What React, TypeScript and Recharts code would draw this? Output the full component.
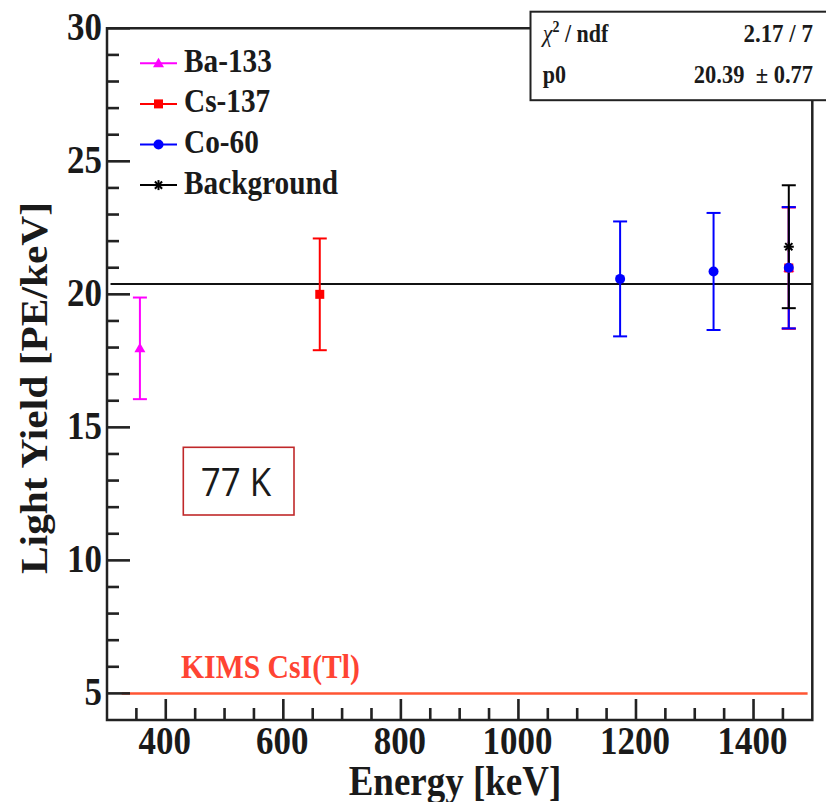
import React from 'react';
import { ScatterChart, Scatter, XAxis, YAxis, ErrorBar, ReferenceLine, ReferenceArea } from 'recharts';

// ---- data ----
const BA133_ENERGY = [356, 1460];
const BA133_LY = [17.97, 20.99];
const BA133_ERR = [1.91, 2.28];

const CS137_ENERGY = [662, 1460];
const CS137_LY = [20.0, 20.99];
const CS137_ERR = [2.1, 2.28];

const CO60_ENERGY = [1173, 1332, 1460];
const CO60_LY = [20.58, 20.86, 21.0];
const CO60_ERR = [2.16, 2.2, 2.28];

const BG_ENERGY = [1460];
const BG_LY = [21.79];
const BG_ERR = [2.31];

const FIT_P0 = 20.39;
const KIMS_LY = 5;

const X_DOMAIN = [300, 1500];
const Y_DOMAIN = [4, 30];
const X_MAJOR = [400, 600, 800, 1000, 1200, 1400];
const X_TICKS = [350, 400, 450, 500, 550, 600, 650, 700, 750, 800, 850, 900, 950, 1000, 1050, 1100, 1150, 1200, 1250, 1300, 1350, 1400, 1450];
const Y_MAJOR = [5, 10, 15, 20, 25, 30];
const Y_TICKS = [5, 6, 7, 8, 9, 10, 11, 12, 13, 14, 15, 16, 17, 18, 19, 20, 21, 22, 23, 24, 25, 26, 27, 28, 29, 30];

const LEGEND_LABELS = ['Ba-133', 'Cs-137', 'Co-60', 'Background'];
const STATS_ROWS = [['χ2 / ndf', '2.17 / 7'], ['p0', '20.39  ± 0.77']];

const COLORS = ['#ff00ff', '#ff0000', '#0000ff', '#000000'];
const KINDS = ['triangle', 'square', 'circle', 'star'];

const zip = (xs: number[], ys: number[], es: number[]) => xs.map((x, i) => ({ x, y: ys[i], err: es[i] }));
const SERIES = [
  zip(BA133_ENERGY, BA133_LY, BA133_ERR),
  zip(CS137_ENERGY, CS137_LY, CS137_ERR),
  zip(CO60_ENERGY, CO60_LY, CO60_ERR),
  zip(BG_ENERGY, BG_LY, BG_ERR),
];

// layout
const W = 826;
const H = 802;
const M = { top: 28.3, right: 13.7, bottom: 0, left: 0 };
const XAXIS_H = 82;
const YAXIS_W = 107;
const PLOT_X = M.left + YAXIS_W;
const PLOT_Y = M.top;
const PLOT_W = W - M.left - M.right - YAXIS_W;
const PLOT_H = H - M.top - M.bottom - XAXIS_H;
const PLOT_BOTTOM = PLOT_Y + PLOT_H;
// same linear mapping as the chart's axes (used only for the inward tick marks)
const tx = (v: number) => PLOT_X + ((v - X_DOMAIN[0]) / (X_DOMAIN[1] - X_DOMAIN[0])) * PLOT_W;
const ty = (v: number) => PLOT_Y + ((Y_DOMAIN[1] - v) / (Y_DOMAIN[1] - Y_DOMAIN[0])) * PLOT_H;
const TICK_W = 2.6;

const SERIF = '"Liberation Serif", "Times New Roman", serif';
const INK = '#1a1a1a';
const SY = 1.12;

function Marker({ kind, cx, cy, color }: { kind: string; cx: number; cy: number; color: string }) {
  if (kind === 'triangle') {
    return <polygon points={`${cx},${cy - 5.5} ${cx - 5.5},${cy + 4} ${cx + 5.5},${cy + 4}`} fill={color} />;
  }
  if (kind === 'square') {
    return <rect x={cx - 4.5} y={cy - 4.5} width={9} height={9} fill={color} />;
  }
  if (kind === 'circle') {
    return <circle cx={cx} cy={cy} r={5} fill={color} />;
  }
  const r = 5;
  const d = 3.6;
  return (
    <g stroke={color} strokeWidth={2}>
      <line x1={cx - r} y1={cy} x2={cx + r} y2={cy} />
      <line x1={cx} y1={cy - r} x2={cx} y2={cy + r} />
      <line x1={cx - d} y1={cy - d} x2={cx + d} y2={cy + d} />
      <line x1={cx - d} y1={cy + d} x2={cx + d} y2={cy - d} />
    </g>
  );
}

function STxt({ x, y, size, children, anchor = 'start', fill = INK, weight = 'bold', family = SERIF, sy = SY }: any) {
  return (
    <text
      transform={`translate(${x},${y}) scale(1,${sy})`}
      x={0}
      y={0}
      fontFamily={family}
      fontWeight={weight}
      fontSize={size}
      textAnchor={anchor}
      fill={fill}
    >
      {children}
    </text>
  );
}

const XTick = (props: any) => {
  const { x, payload } = props;
  if (!X_MAJOR.includes(payload.value)) return <g />;
  return (
    <STxt x={Number(x) - 1} y={PLOT_BOTTOM + 34} size={35} anchor="middle">
      {payload.value}
    </STxt>
  );
};

const YTick = (props: any) => {
  const { y, payload } = props;
  if (!Y_MAJOR.includes(payload.value)) return <g />;
  return (
    <STxt x={PLOT_X - 5} y={Number(y) + 12} size={35} anchor="end">
      {payload.value}
    </STxt>
  );
};

export default function App() {
  return (
    <div style={{ position: 'absolute', left: 0, top: 0, width: W, height: H, background: '#fff' }}>
      <ScatterChart width={W} height={H} margin={M}>
        <XAxis
          dataKey="x"
          type="number"
          domain={X_DOMAIN}
          ticks={X_TICKS}
          interval={0}
          height={XAXIS_H}
          tickSize={0}
          tickMargin={0}
          tickLine={false}
          axisLine={false}
          tick={<XTick />}
          allowDataOverflow
        />
        <YAxis
          dataKey="y"
          type="number"
          domain={Y_DOMAIN}
          ticks={Y_TICKS}
          interval={0}
          width={YAXIS_W}
          tickSize={0}
          tickMargin={0}
          tickLine={false}
          axisLine={false}
          tick={<YTick />}
          allowDataOverflow
        />
        <ReferenceArea
          x1={X_DOMAIN[0]}
          x2={X_DOMAIN[1]}
          y1={Y_DOMAIN[0]}
          y2={Y_DOMAIN[1]}
          ifOverflow="visible"
          fill="none"
          stroke="#222"
          strokeWidth={2.5}
        />
        <ReferenceLine
          segment={[{ x: 325, y: KIMS_LY }, { x: 1492, y: KIMS_LY }]}
          stroke="#ff5533"
          strokeWidth={2.5}
        />
        <ReferenceLine
          ifOverflow="visible"
          segment={[{ x: 306, y: FIT_P0 }, { x: X_DOMAIN[1], y: FIT_P0 }]}
          stroke="#111"
          strokeWidth={2}
        />
        {SERIES.map((data, i) => (
          <Scatter
            key={LEGEND_LABELS[i]}
            name={LEGEND_LABELS[i]}
            data={data}
            isAnimationActive={false}
            shape={(p: any) => <Marker kind={KINDS[i]} cx={p.cx} cy={p.cy} color={COLORS[i]} />}
          >
            <ErrorBar dataKey="err" direction="y" width={7} stroke={COLORS[i]} strokeWidth={2} isAnimationActive={false} />
          </Scatter>
        ))}
      </ScatterChart>
      <svg width={W} height={H} style={{ position: 'absolute', left: 0, top: 0, pointerEvents: 'none' }}>
        {/* inward tick marks */}
        {X_TICKS.map((v) => {
          const len = X_MAJOR.includes(v) ? 21 : 12;
          return (
            <rect
              key={'xt' + v}
              x={tx(v) - TICK_W / 2}
              y={PLOT_BOTTOM - len}
              width={TICK_W}
              height={len}
              fill="#222"
            />
          );
        })}
        {Y_TICKS.map((v) => {
          const len = Y_MAJOR.includes(v) ? 23 : 12;
          return (
            <rect
              key={'yt' + v}
              x={PLOT_X}
              y={ty(v) - TICK_W / 2}
              width={len}
              height={TICK_W}
              fill="#222"
            />
          );
        })}
        {/* legend */}
        {LEGEND_LABELS.map((label, i) => {
          const ry = 63.3 + i * 40.6;
          return (
            <g key={label}>
              <line x1={140} y1={ry} x2={177} y2={ry} stroke={COLORS[i]} strokeWidth={2} />
              <Marker kind={KINDS[i]} cx={158.5} cy={ry} color={COLORS[i]} />
              <STxt x={184} y={ry + 8.4} size={29.3}>
                {label}
              </STxt>
            </g>
          );
        })}
        {/* stats box */}
        <rect x={530.5} y={11.7} width={300} height={88.5} fill="#fff" stroke="#222" strokeWidth={2} />
        <text
          transform={`translate(542.7,41.7) scale(1,${SY})`}
          fontFamily={SERIF}
          fontWeight="bold"
          fontSize={22}
          fill={INK}
        >
          <tspan fontStyle="italic" fontWeight="normal">χ</tspan>
          <tspan fontSize={14} dy={-9}>2</tspan>
          <tspan dy={9}> / ndf</tspan>
        </text>
        <STxt x={813} y={41.7} size={23} anchor="end">
          {STATS_ROWS[0][1]}
        </STxt>
        <STxt x={542.7} y={83} size={22}>
          {STATS_ROWS[1][0]}
        </STxt>
        <STxt x={813} y={83} size={22.5} anchor="end">
          <tspan xmlSpace="preserve">{STATS_ROWS[1][1]}</tspan>
        </STxt>
        {/* axis titles */}
        <text
          transform={`translate(46.7,388) scale(1,${SY}) rotate(-90)`}
          fontFamily={SERIF}
          fontWeight="bold"
          fontSize={37}
          textAnchor="middle"
          fill={INK}
        >
          Light Yield [PE/keV]
        </text>
        <STxt x={455} y={795} size={37} anchor="middle">
          Energy [keV]
        </STxt>
        {/* annotations */}
        <STxt x={181} y={678} size={29.7} fill="#ff4433">
          KIMS CsI(Tl)
        </STxt>
        <rect x={183.3} y={447.3} width={110.7} height={67.7} fill="none" stroke="#c0282a" strokeWidth={1.6} />
        <STxt x={200.7} y={495.7} size={35} weight="normal" family='"Open Sans", "Noto Sans", sans-serif' sy={1.08}>
          77 K
        </STxt>
      </svg>
    </div>
  );
}
